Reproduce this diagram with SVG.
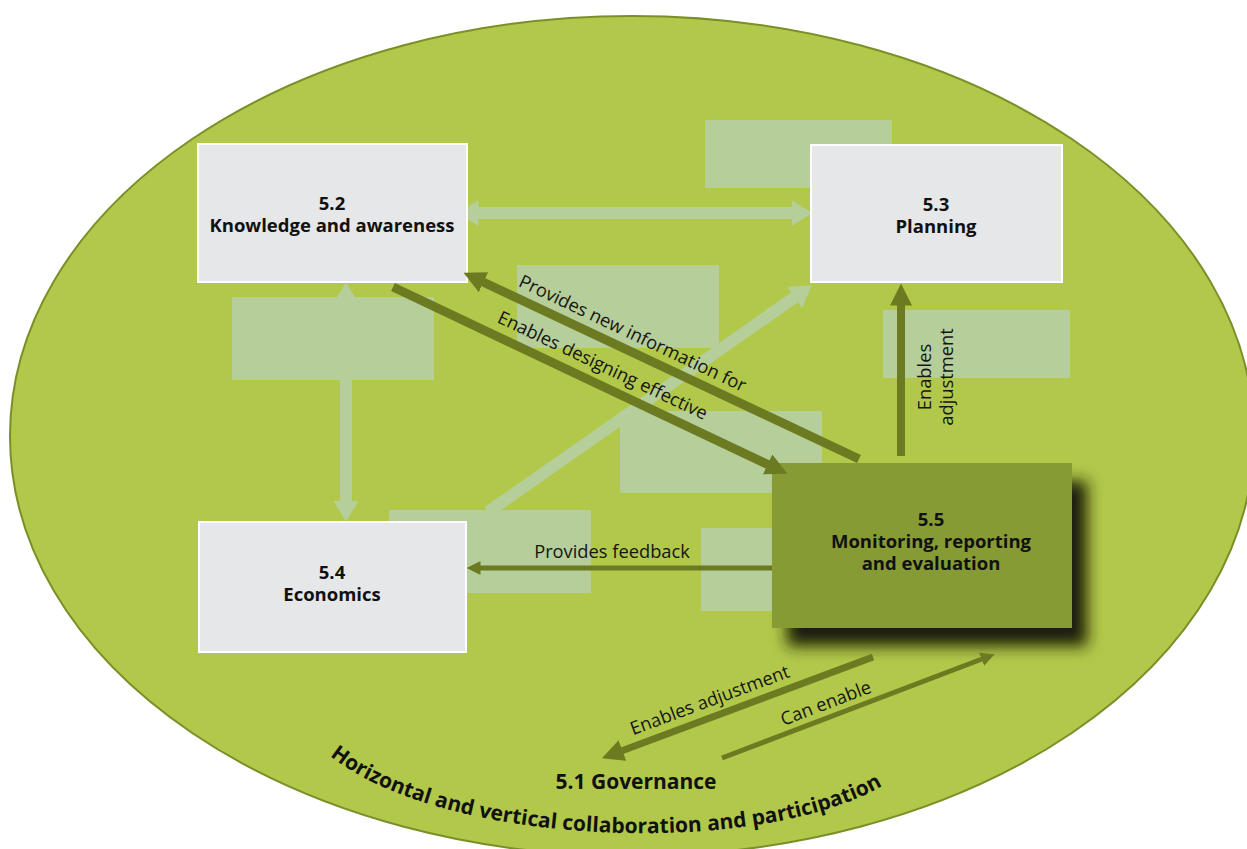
<svg xmlns="http://www.w3.org/2000/svg" width="1247" height="849" viewBox="0 0 1247 849">
<style>
.pale{fill:#b5ce9a}
.box{fill:#e6e7e8;stroke:#ffffff;stroke-width:2}
.bt{font-family:"Open Sans","Liberation Sans",sans-serif;font-size:18.5px;font-weight:bold;fill:#111;text-anchor:middle}
.gov{font-family:"Open Sans","Liberation Sans",sans-serif;font-size:21px;font-weight:bold;fill:#111}
.lbl{font-family:"Open Sans","Liberation Sans",sans-serif;font-size:18.3px;fill:#151515;text-anchor:middle}
.la{fill:none;stroke:#b5ce9a;stroke-width:12}
.da{fill:none;stroke:#6c7b22}
</style>
<defs>
<marker id="hl" markerUnits="userSpaceOnUse" viewBox="0 0 21 26" refX="0.5" refY="13" markerWidth="21" markerHeight="26" orient="auto-start-reverse"><path d="M0,0 L21,13 L0,26 z" fill="#b5ce9a"/></marker>
<marker id="hd" markerUnits="userSpaceOnUse" viewBox="0 0 22 22" refX="0.5" refY="11" markerWidth="22" markerHeight="22" orient="auto"><path d="M0,0 L22,11 L0,22 z" fill="#6c7b22"/></marker>
<marker id="hs" markerUnits="userSpaceOnUse" viewBox="0 0 14 14" refX="0.5" refY="7" markerWidth="14" markerHeight="14" orient="auto"><path d="M0,0 L14,7 L0,14 z" fill="#6c7b22"/></marker>
<filter id="shadow" x="-20%" y="-30%" width="150%" height="170%">
<feGaussianBlur in="SourceAlpha" stdDeviation="7.5"/>
<feOffset dx="15" dy="18" result="b"/>
<feFlood flood-color="#1c1f08" flood-opacity="1"/>
<feComposite in2="b" operator="in"/>
<feMerge><feMergeNode/><feMergeNode in="SourceGraphic"/></feMerge>
</filter>
<path id="arc" d="M330,756 C445,848 770,860 892,780"/>
</defs>

<ellipse id="governance-area" cx="632" cy="436" rx="622" ry="420" fill="#b2c84a" stroke="#7a8f27" stroke-width="2"/>

<g id="placeholders">
<rect class="pale" x="705" y="120" width="187" height="68"/>
<rect class="pale" x="232" y="297" width="202" height="83"/>
<rect class="pale" x="517" y="265" width="202" height="83"/>
<rect class="pale" x="620" y="411" width="202" height="82"/>
<rect class="pale" x="883" y="310" width="187" height="68"/>
<rect class="pale" x="389" y="510" width="202" height="83"/>
<rect class="pale" x="701" y="528" width="202" height="83"/>
</g>

<g id="light-connectors">
<path class="la" d="M478,213 L792,213" marker-start="url(#hl)" marker-end="url(#hl)"/>
<path class="la" d="M346,303 L346,501" marker-start="url(#hl)" marker-end="url(#hl)"/>
<path class="la" d="M488,512 L795,297" marker-end="url(#hl)"/>
</g>

<g id="node-5-2">
<rect class="box" x="198" y="144" width="269" height="138"/>
<text class="bt" x="332" y="210">5.2</text>
<text class="bt" x="332" y="232">Knowledge and awareness</text>
</g>
<g id="node-5-3">
<rect class="box" x="811" y="145" width="251" height="137"/>
<text class="bt" x="936" y="211">5.3</text>
<text class="bt" x="936" y="233">Planning</text>
</g>
<g id="node-5-4">
<rect class="box" x="199" y="522" width="267" height="130"/>
<text class="bt" x="332" y="579">5.4</text>
<text class="bt" x="332" y="601">Economics</text>
</g>
<g id="node-5-5">
<rect x="772" y="463" width="300" height="165" fill="#879b35" filter="url(#shadow)"/>
<text class="bt" x="931" y="526">5.5</text>
<text class="bt" x="931" y="548">Monitoring, reporting</text>
<text class="bt" x="931" y="570">and evaluation</text>
</g>
<g id="node-5-1">
<text class="gov" x="636" y="789" text-anchor="middle">5.1 Governance</text>
<text class="gov"><textPath href="#arc" textLength="574" lengthAdjust="spacing">Horizontal and vertical collaboration and participation</textPath></text>
</g>

<g id="connectors">
<path class="da" stroke-width="9" d="M859,459 L483,282" marker-end="url(#hd)"/>
<path class="da" stroke-width="9" d="M393,287 L768,464.6" marker-end="url(#hd)"/>
<path class="da" stroke-width="8" d="M901,456 L901,305" marker-end="url(#hd)"/>
<path class="da" stroke-width="5" d="M772,568 L480,568" marker-end="url(#hs)"/>
<path class="da" stroke-width="7" d="M873,657 L622,750.7" marker-end="url(#hd)"/>
<path class="da" stroke-width="5" d="M722,758 L982,659" marker-end="url(#hs)"/>
<text class="lbl" transform="translate(630,339) rotate(25.3)">Provides new information for</text>
<text class="lbl" transform="translate(600,371) rotate(25.3)">Enables designing effective</text>
<text class="lbl" transform="translate(931,377) rotate(-90)">Enables</text>
<text class="lbl" transform="translate(953,377) rotate(-90)">adjustment</text>
<text class="lbl" x="612" y="558">Provides feedback</text>
<text class="lbl" transform="translate(712,706) rotate(-20.4)">Enables adjustment</text>
<text class="lbl" transform="translate(828,709) rotate(-20.85)">Can enable</text>
</g>
</svg>
